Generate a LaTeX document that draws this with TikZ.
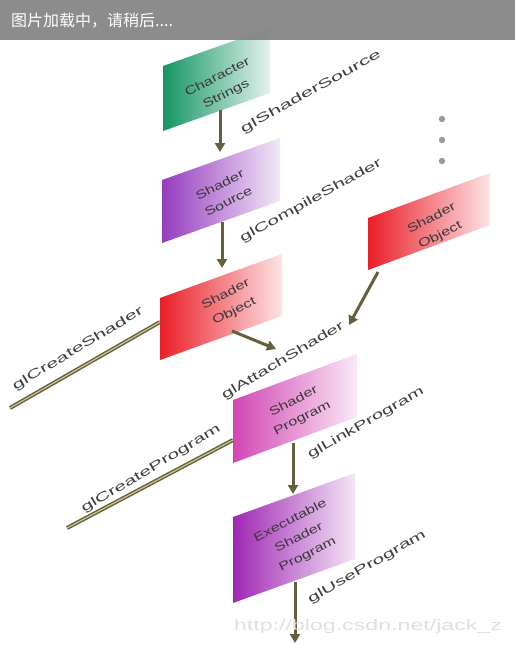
\documentclass[tikz,border=0pt]{standalone}
\usepackage{fontspec}
\setmainfont{Liberation Sans}
\newfontfamily\cjk{Noto Sans CJK SC}
\usetikzlibrary{arrows.meta}
\definecolor{cgreen}{RGB}{20,150,100}
\definecolor{cpurple}{RGB}{150,60,190}
\definecolor{cred}{RGB}{235,30,40}
\definecolor{cpink}{RGB}{210,70,180}
\definecolor{cexe}{RGB}{160,40,180}
\definecolor{olive}{RGB}{100,95,60}
\definecolor{tanl}{RGB}{205,195,145}
\definecolor{txtc}{RGB}{60,55,60}
\definecolor{banner}{RGB}{128,128,128}
\newcommand\pgram[6]{% Lx, Rx, TLy, BLy, rise, color
  \shade[left color=#6, right color=#6!12!white] (#1,#3) -- (#2,#3-#5) -- (#2,#4-#5) -- (#1,#4) -- cycle;}
\newcommand\bxl[1]{\scalebox{1.35}[1]{#1}}
\newcommand\lbt[2]{\resizebox{#1pt}{9pt}{#2}}
\begin{document}
\begin{tikzpicture}[x=1pt,y=-1pt,
  boxtxt/.style={text=txtc, font=\fontsize{12}{19}\selectfont, align=center, inner sep=0pt},
  lbl/.style={text=black!75, inner sep=0pt},
  conn/.style={draw=olive, line width=3pt, -{Triangle[length=9pt,width=10pt]}},
  tube/.style={draw=olive, double=tanl, double distance=1.2pt, line width=1.4pt}]
\useasboundingbox (0,0) rectangle (515,645);
\fill[white] (0,0) rectangle (515,645);
% boxes
\pgram{163}{270}{66}{131}{38}{cgreen}
\pgram{162}{280}{180}{243}{42}{cpurple}
\pgram{160}{282}{298}{360}{44}{cred}
\pgram{368}{490}{218}{270}{45}{cred}
\pgram{233}{357}{400}{463}{46}{cpink}
\pgram{233}{355}{517}{603}{44}{cexe}
% box texts
\node[boxtxt, rotate=27] (cs) at (222,86) {\bxl{Character}\\\bxl{Strings}};
\node[boxtxt, rotate=27] (ss) at (224,193) {\bxl{Shader}\\\bxl{Source}};
\node[boxtxt, rotate=27] (so) at (230,303) {\bxl{Shader}\\\bxl{Object}};
\node[boxtxt, rotate=27] (so2) at (436,227) {\bxl{Shader}\\\bxl{Object}};
\node[boxtxt, rotate=27] (sp) at (298,410) {\bxl{Shader}\\\bxl{Program}};
\node[boxtxt, rotate=27] (ex) at (299,538) {\bxl{Executable}\\\bxl{Shader}\\\bxl{Program}};
% anchor coordinates
\coordinate (cs-b) at (220,110);
\coordinate (ss-t) at (220,152);
\coordinate (ss-b) at (222,222);
\coordinate (so-t) at (222,268);
\coordinate (so-r) at (232,331);
\coordinate (att) at (276,349);
\coordinate (so2-b) at (378,272);
\coordinate (att2) at (349,325);
\coordinate (so-l) at (160,322);
\coordinate (cre1) at (10,408);
\coordinate (sp-l) at (233,440);
\coordinate (cre2) at (67,528);
\coordinate (sp-b) at (293,443);
\coordinate (ex-t) at (293,494);
\coordinate (ex-b) at (295,582);
\coordinate (out) at (295,643);
% connectors
\draw[conn] (cs-b) -- (ss-t);
\draw[conn] (ss-b) -- (so-t);
\draw[conn] (so-r) -- (att);
\draw[conn] (so2-b) -- (att2);
\draw[conn] (sp-b) -- (ex-t);
\draw[conn] (ex-b) -- (out);
\draw[tube] (so-l) -- (cre1);
\draw[tube] (sp-l) -- (cre2);
% labels
\node[lbl, rotate=29] (l1) at (311,92) {\lbt{158}{glShaderSource}};
\node[lbl, rotate=29] (l2) at (311,201) {\lbt{160}{glCompileShader}};
\node[lbl, rotate=31] (l3) at (78,349) {\lbt{150}{glCreateShader}};
\node[lbl, rotate=31] (l4) at (283,361) {\lbt{140}{glAttachShader}};
\node[lbl, rotate=30] (l5) at (366,423) {\lbt{132}{glLinkProgram}};
\node[lbl, rotate=31] (l6) at (151,469) {\lbt{160}{glCreateProgram}};
\node[lbl, rotate=30] (l7) at (367,567) {\lbt{134}{glUseProgram}};
% dots
\fill[gray!80] (442,119) circle (3.2) coordinate (d1);
\fill[gray!80] (442,140) circle (3.2) coordinate (d2);
\fill[gray!80] (442,161) circle (3.2) coordinate (d3);
% watermark
\node[text=black!12, inner sep=0pt] (wm) at (368,627) {\resizebox{268pt}{11pt}{http://blog.csdn.net/jack\_z}};
% banner
\fill[banner, fill opacity=0.9] (0,0) rectangle (515,40);
\node[anchor=west, text=white, inner sep=0pt, font=\cjk\fontsize{16}{16}\selectfont] (ban) at (11,21) {图片加载中，请稍后....};
\end{tikzpicture}
\end{document}
